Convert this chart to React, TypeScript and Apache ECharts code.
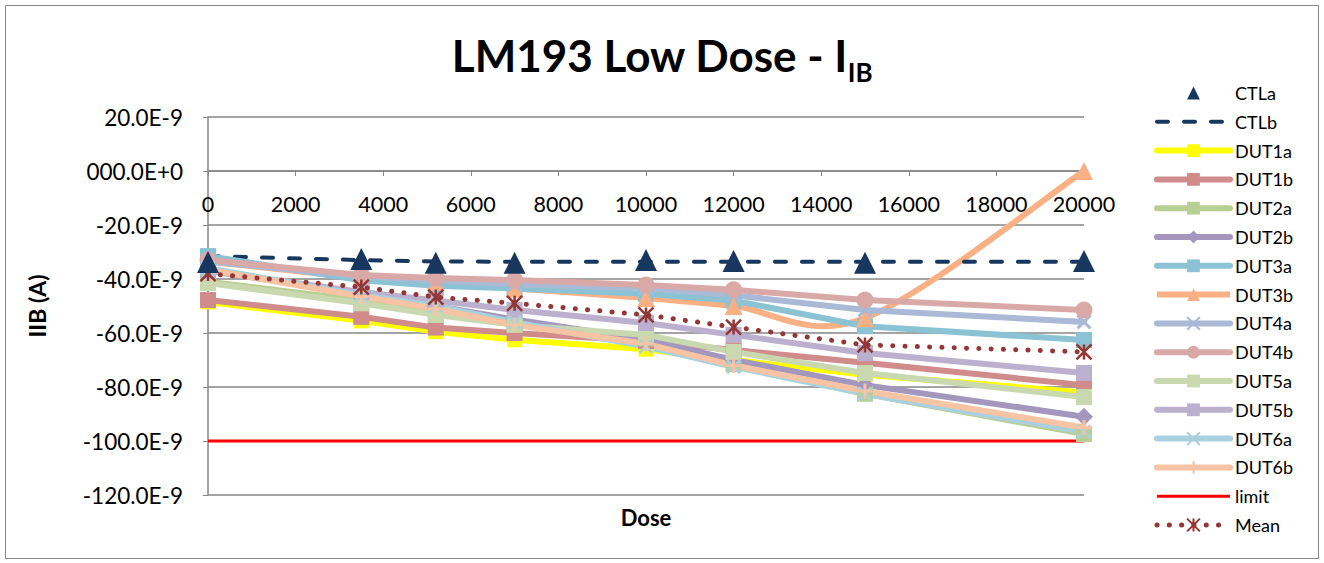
import React, { useEffect, useRef } from "react";
import * as echarts from "echarts";

const doses = [0, 3500, 5200, 7000, 10000, 12000, 15000, 20000];

const ctla = [-33.7, -32.6, -34, -34, -33, -33.3, -34, -33.3];
const ctlb = [-31.5, -33, -33.5, -33.6, -33.6, -33.6, -33.6, -33.6];
const dut1a = [-48.5, -55.5, -59.5, -62.5, -66, -70, -75.5, -82];
const dut1b = [-47.8, -54, -58, -60, -63, -66.3, -71, -79.3];
const dut2a = [-41, -48, -52, -56.5, -62, -71.5, -82.5, -97.4];
const dut2b = [-37, -45.5, -50, -55, -62.5, -70, -79.3, -91];
const dut3a = [-31.5, -40.5, -42.5, -43.5, -45.5, -48, -57.5, -62.6];
const dut3b = [-33.5, -39.5, -41, -43.5, -47, -50, -54.5, 0];
const dut4a = [-33.5, -39, -40.5, -42, -43.3, -46, -51.5, -55.9];
const dut4b = [-33, -38.5, -39.6, -40.4, -42.2, -44, -47.8, -51.5];
const dut5a = [-41.5, -49, -53.3, -57, -60.7, -67, -74.8, -83.7];
const dut5b = [-37, -44.8, -48, -51.5, -56.3, -60.7, -67.4, -74.8];
const dut6a = [-36, -46, -50, -56, -65, -72.5, -82.5, -96.6];
const dut6b = [-36.5, -46.5, -51, -57, -64, -72, -81.5, -95];
const limit = [-100, -100, -100, -100, -100, -100, -100, -100];
const mean = [-38, -43, -46.7, -49, -53.3, -57.8, -64.4, -67];

const FONT = "Lato";
const X_PATH = "path://M0 0L10 10M10 0L0 10";
const PLUS_PATH = "path://M5 0L5 10M0 5L10 5";
const STAR_PATH = "path://M0 0L10 10M10 0L0 10M5 0L5 10";
const DUT3B_COLOR = "#F8B084";

function pts(vals: number[]) {
  return doses.map((d, i) => [d, vals[i]]);
}

function dut(name: string, vals: number[], color: string, symbol: string, size: number, extra: any = {}) {
  const stroke = symbol.startsWith("path://");
  return {
    name,
    type: "line",
    data: pts(vals),
    symbol,
    symbolSize: size,
    showSymbol: true,
    lineStyle: { color, width: 6, cap: "round", join: "round" },
    itemStyle: stroke
      ? { color, borderColor: color, borderWidth: 3 }
      : { color, borderWidth: 0 },
    emphasis: { disabled: true },
    ...extra,
  };
}

// Excel-like smoothed line (Catmull-Rom style Bezier) drawn through the axis scales
function smoothRenderItem(vals: number[], color: string) {
  return (params: any, api: any) => {
    if (params.dataIndex !== 0) return null;
    const p = vals.map((v, i) => api.coord([doses[i], v]));
    const n = p.length;
    let d = `M${p[0][0]} ${p[0][1]}`;
    for (let i = 0; i < n - 1; i++) {
      const p0 = p[i - 1] || p[i];
      const p1 = p[i];
      const p2 = p[i + 1];
      const p3 = p[i + 2] || p[i + 1];
      const c1x = p1[0] + (p2[0] - p0[0]) / 6;
      const c1y = p1[1] + (p2[1] - p0[1]) / 6;
      const c2x = p2[0] - (p3[0] - p1[0]) / 6;
      const c2y = p2[1] - (p3[1] - p1[1]) / 6;
      d += ` C${c1x} ${c1y} ${c2x} ${c2y} ${p2[0]} ${p2[1]}`;
    }
    return {
      type: "path",
      shape: { pathData: d },
      style: { fill: "none", stroke: color, lineWidth: 6, lineCap: "round", lineJoin: "round" },
      silent: true,
    };
  };
}

export default function App() {
  const ref = useRef<HTMLDivElement>(null);
  useEffect(() => {
    if (!ref.current) return;
    const chart = echarts.init(ref.current, null, { renderer: "svg" });
    const series: any[] = [
      {
        name: "CTLb",
        type: "line",
        data: pts(ctlb),
        symbol: "none",
        lineStyle: { color: "#17375E", width: 4, type: [11, 16], cap: "round" },
        itemStyle: { color: "#17375E" },
        emphasis: { disabled: true },
      },
      dut("DUT1a", dut1a, "#FFFF00", "rect", 15),
      dut("DUT1b", dut1b, "#CF8C8A", "rect", 16),
      dut("DUT2a", dut2a, "#B8CE92", "rect", 16),
      dut("DUT2b", dut2b, "#A497BE", "diamond", 18),
      dut("DUT3a", dut3a, "#8CC3D4", "rect", 16),
      {
        name: "DUT3b smooth",
        type: "custom",
        data: pts(dut3b),
        renderItem: smoothRenderItem(dut3b, DUT3B_COLOR),
        silent: true,
      },
      dut("DUT3b", dut3b, DUT3B_COLOR, "triangle", 18, { lineStyle: { color: DUT3B_COLOR, width: 0, opacity: 0 } }),
      dut("DUT4a", dut4a, "#A9B9D6", X_PATH, 13),
      dut("DUT4b", dut4b, "#D9A9A8", "circle", 17),
      dut("DUT5a", dut5a, "#C9D8AE", "rect", 16),
      dut("DUT5b", dut5b, "#BBB0CE", "rect", 16),
      dut("DUT6a", dut6a, "#A9D1DD", X_PATH, 13),
      dut("DUT6b", dut6b, "#F6C3A5", PLUS_PATH, 15),
      {
        name: "limit",
        type: "line",
        data: pts(limit),
        symbol: "none",
        lineStyle: { color: "#FF0000", width: 3 },
        itemStyle: { color: "#FF0000" },
        emphasis: { disabled: true },
      },
      {
        name: "Mean",
        type: "line",
        data: pts(mean),
        symbol: STAR_PATH,
        symbolSize: 15,
        z: 5,
        lineStyle: { color: "#943634", width: 5, type: [0.1, 12.2], cap: "round" },
        itemStyle: { color: "#943634", borderColor: "#943634", borderWidth: 2.5 },
        emphasis: { disabled: true },
      },
      {
        name: "CTLa",
        type: "line",
        data: pts(ctla),
        symbol: "triangle",
        symbolSize: [22, 22],
        z: 6,
        lineStyle: { opacity: 0, width: 0 },
        itemStyle: { color: "#17375E" },
        emphasis: { disabled: true },
      },
    ];
    const legendOrder = ["CTLa", "CTLb", "DUT1a", "DUT1b", "DUT2a", "DUT2b", "DUT3a", "DUT3b", "DUT4a", "DUT4b", "DUT5a", "DUT5b", "DUT6a", "DUT6b", "limit", "Mean"];
    const legendData = legendOrder.map((n) => {
      if (n === "CTLb" || n === "limit") return { name: n, itemStyle: { opacity: 0 } };
      if (n === "DUT3b") return { name: n, lineStyle: { width: 6, opacity: 1, color: DUT3B_COLOR } };
      return { name: n };
    });
    chart.setOption({
      animation: false,
      backgroundColor: "#FFFFFF",
      title: {
        text: "{a|LM193 Low Dose - I}{b|IB}",
        left: "center",
        top: 28,
        textStyle: {
          rich: {
            a: { fontFamily: FONT, fontSize: 44, fontWeight: "bold", color: "#000", lineHeight: 52, verticalAlign: "top" },
            b: { fontFamily: FONT, fontSize: 26, fontWeight: "bold", color: "#000", lineHeight: 26, verticalAlign: "bottom" },
          },
        },
      },
      legend: {
        data: legendData,
        orient: "vertical",
        left: 1154,
        top: 84,
        padding: 0,
        itemWidth: 73,
        itemHeight: 16,
        itemGap: 10.8,
        selectedMode: false,
        lineStyle: { width: "inherit" },
        textStyle: { fontFamily: FONT, fontSize: 18, color: "#000" },
      },
      grid: { left: 208, top: 117, right: 240, bottom: 68, outerBoundsMode: "none", containLabel: false },
      xAxis: {
        type: "value",
        min: 0,
        max: 20000,
        interval: 2000,
        offset: -324,
        name: "Dose",
        nameLocation: "middle",
        nameGap: 335,
        nameTextStyle: { fontFamily: FONT, fontSize: 22, fontWeight: "bold", color: "#000" },
        axisLine: { show: true, onZero: false, lineStyle: { color: "#868686", width: 1.5 } },
        axisTick: { show: true, length: 5, lineStyle: { color: "#868686" } },
        axisLabel: { fontFamily: FONT, fontSize: 21.5, color: "#000", margin: 22, formatter: (v: number) => String(v) },
        splitLine: { show: false },
      },
      yAxis: {
        type: "value",
        min: -120,
        max: 20,
        interval: 20,
        name: "IIB (A)",
        nameLocation: "middle",
        nameRotate: 90,
        nameGap: 160,
        nameTextStyle: { fontFamily: FONT, fontSize: 23, fontWeight: "bold", color: "#000" },
        axisLine: { show: true, onZero: false, lineStyle: { color: "#868686", width: 1.5 } },
        axisTick: { show: true, length: 5, lineStyle: { color: "#868686" } },
        axisLabel: {
          fontFamily: FONT,
          fontSize: 22.5,
          color: "#000",
          margin: 25,
          formatter: (v: number) => (v === 0 ? "000.0E+0" : v.toFixed(1) + "E-9"),
        },
        splitLine: { show: true, lineStyle: { color: "#868686", width: 1.5 } },
      },
      graphic: [
        {
          type: "rect",
          shape: { x: 5.5, y: 5.5, width: 1313, height: 553 },
          style: { fill: "none", stroke: "#868686", lineWidth: 1 },
          silent: true,
        },
      ],
      series,
    });
    return () => chart.dispose();
  }, []);
  return <div ref={ref} style={{ position: "absolute", left: 0, top: 0, width: 1324, height: 563 }} />;
}
